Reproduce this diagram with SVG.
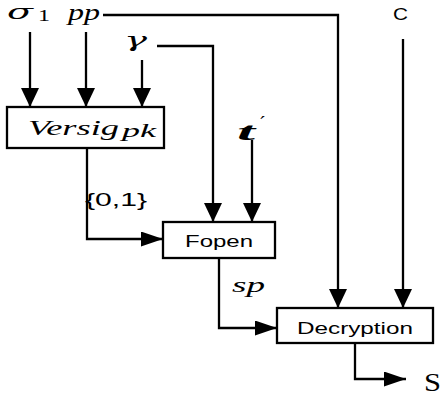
<svg xmlns="http://www.w3.org/2000/svg" width="445" height="396" viewBox="0 0 445 396">
<style>
.ln{fill:none;stroke:#000;stroke-width:2.3}
.bx{fill:#fff;stroke:#000;stroke-width:2.3}
.m{font-family:"Liberation Serif",serif;font-style:italic;fill:#000}
.g{font-family:"DejaVu Serif",serif;font-style:italic;fill:#000}
.r{font-family:"Liberation Serif",serif;fill:#000}
.s{font-family:"Liberation Sans",Arial,sans-serif;fill:#000}
</style>
<defs>
<marker id="av" viewBox="0 0 19 18" refX="19" refY="9" markerWidth="19" markerHeight="18" markerUnits="userSpaceOnUse" orient="auto">
<path d="M0,0L19,9L0,18z" fill="#000"/>
</marker>
<marker id="ah" viewBox="0 0 22 15" refX="22" refY="7.5" markerWidth="22" markerHeight="15" markerUnits="userSpaceOnUse" orient="auto">
<path d="M0,0L22,7.5L0,15z" fill="#000"/>
</marker>
</defs>
<g id="connectors">
<path class="ln" d="M30,32V107" marker-end="url(#av)"/>
<path class="ln" d="M86,32V107" marker-end="url(#av)"/>
<path class="ln" d="M142,60V107" marker-end="url(#av)"/>
<path class="ln" d="M103,15H338V308" marker-end="url(#av)"/>
<path class="ln" d="M157,46H213V222" marker-end="url(#av)"/>
<path class="ln" d="M252,140V222" marker-end="url(#av)"/>
<path class="ln" d="M403,39V308" marker-end="url(#av)"/>
<path class="ln" d="M87,148V239H163" marker-end="url(#ah)"/>
<path class="ln" d="M219,258V328H277" marker-end="url(#ah)"/>
<path class="ln" d="M355,343V379H406" marker-end="url(#ah)"/>
</g>
<g id="labels">
<text class="g" x="7" y="19" font-size="20" textLength="26" lengthAdjust="spacingAndGlyphs">σ</text>
<text class="r" x="38" y="21" font-size="16" textLength="12" lengthAdjust="spacingAndGlyphs">1</text>
<text class="m" x="68" y="20" font-size="24" textLength="32" lengthAdjust="spacingAndGlyphs">pp</text>
<text class="g" x="124" y="47" font-size="20" textLength="23" lengthAdjust="spacingAndGlyphs">γ</text>
<text class="m" x="237" y="140" font-size="26" font-weight="bold" textLength="18" lengthAdjust="spacingAndGlyphs">t</text>
<text class="r" x="259" y="131" font-size="20">´</text>
<text class="s" x="393" y="20" font-size="17" textLength="15" lengthAdjust="spacingAndGlyphs">C</text>
<text class="s" x="85" y="206" font-size="19" textLength="62" lengthAdjust="spacingAndGlyphs">{0,1}</text>
<text class="m" x="232" y="292" font-size="22" textLength="33" lengthAdjust="spacingAndGlyphs">sp</text>
<text class="r" x="424" y="391" font-size="26" textLength="17" lengthAdjust="spacingAndGlyphs">S</text>
</g>
<g id="versig">
<rect class="bx" x="7" y="107" width="157" height="41"/>
<text class="m" x="28" y="135" font-size="20" textLength="91" lengthAdjust="spacingAndGlyphs">Versig</text>
<text class="m" x="122" y="137" font-size="19" textLength="34" lengthAdjust="spacingAndGlyphs">pk</text>
</g>
<g id="fopen">
<rect class="bx" x="163" y="222" width="112" height="36"/>
<text class="s" x="185" y="247" font-size="17" textLength="68" lengthAdjust="spacingAndGlyphs">Fopen</text>
</g>
<g id="decryption">
<rect class="bx" x="277" y="308" width="156" height="35"/>
<text class="s" x="297" y="334" font-size="17" textLength="116" lengthAdjust="spacingAndGlyphs">Decryption</text>
</g>
</svg>
